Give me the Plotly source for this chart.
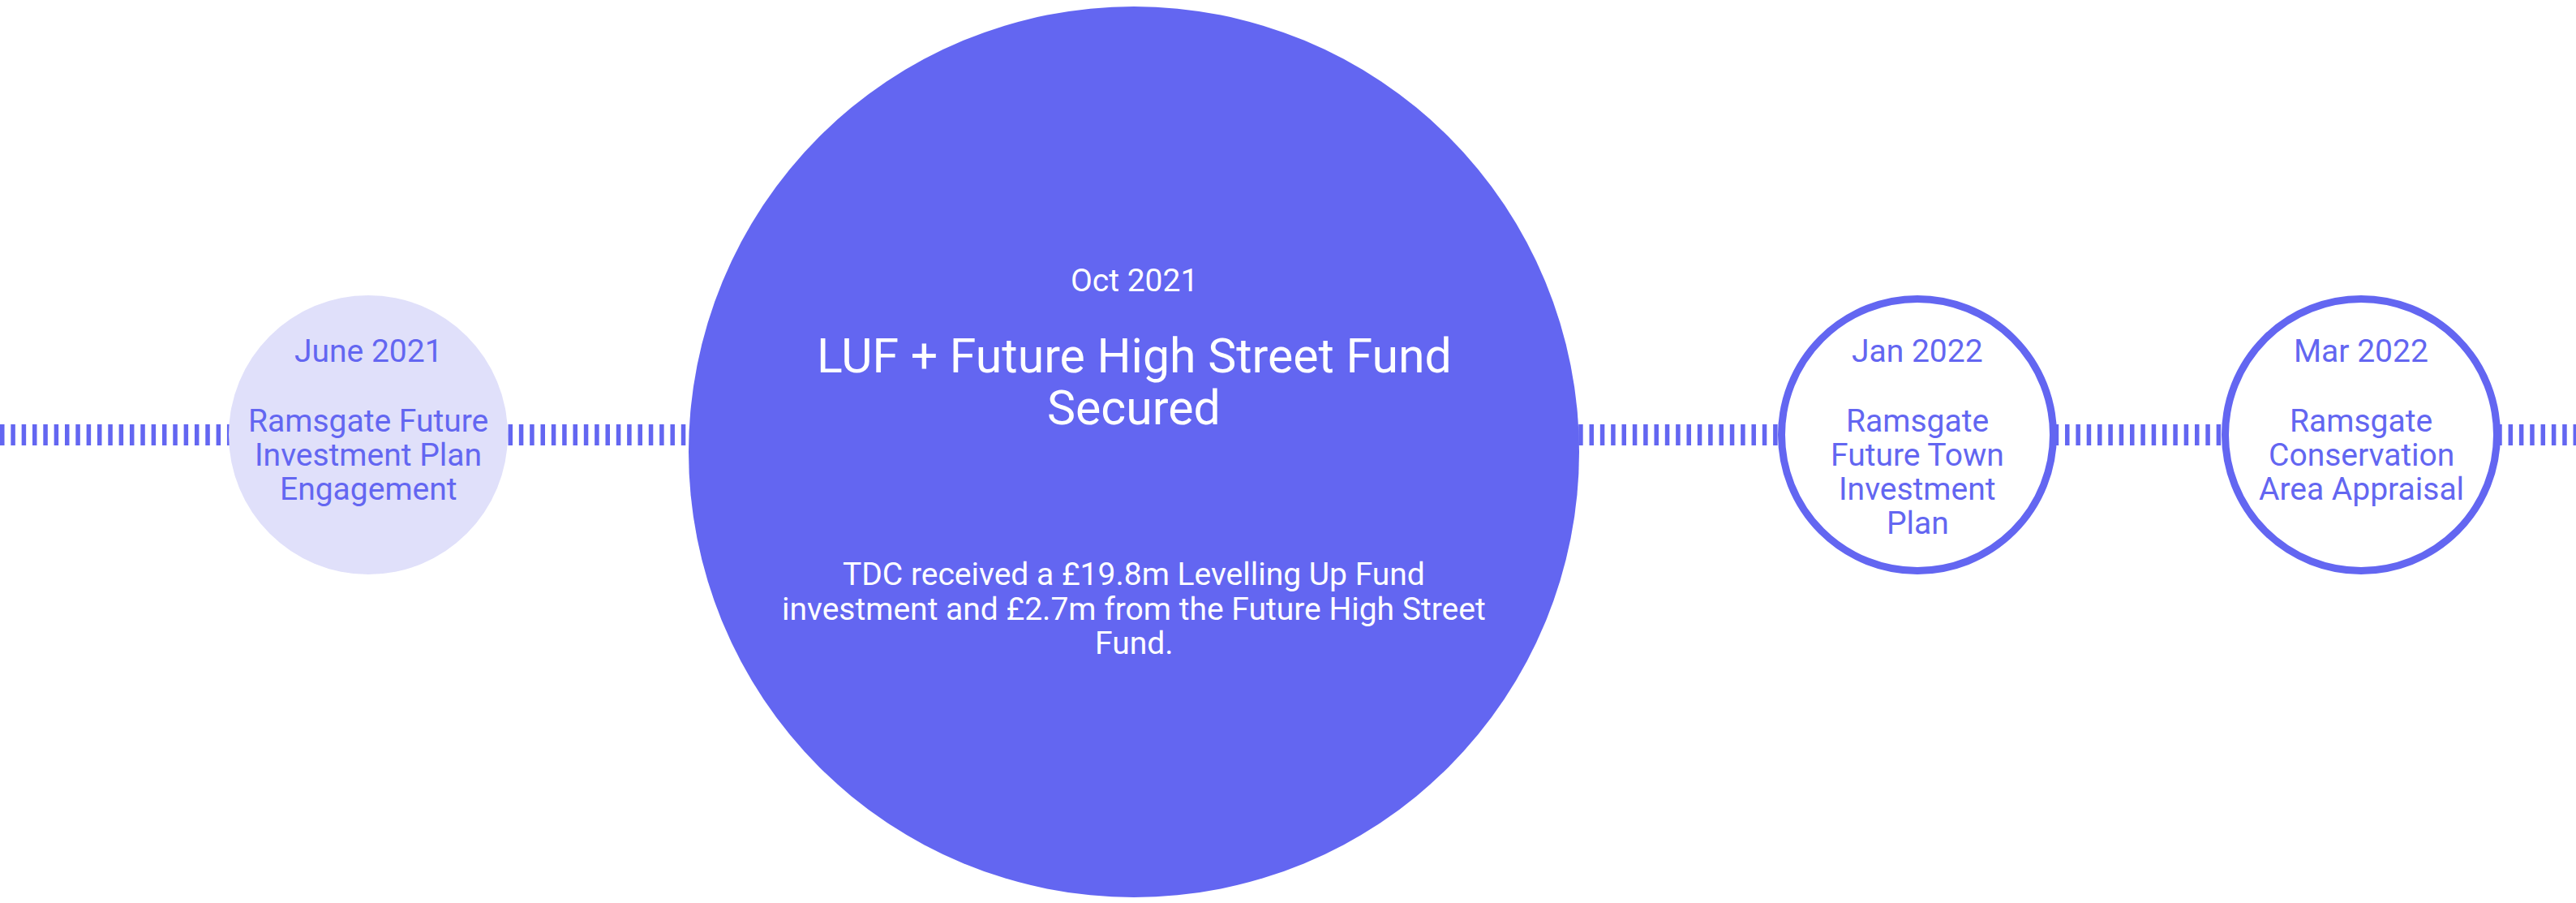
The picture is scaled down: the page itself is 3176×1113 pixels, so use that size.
import plotly.graph_objects as go

# timeline milestones
dates = ["June 2021", "Oct 2021", "Jan 2022", "Mar 2022"]
titles = [
    "Ramsgate Future<br>Investment Plan<br>Engagement",
    "LUF + Future High Street Fund<br>Secured",
    "Ramsgate<br>Future Town<br>Investment<br>Plan",
    "Ramsgate<br>Conservation<br>Area Appraisal",
]
details = [
    "",
    "TDC received a £19.8m Levelling Up Fund<br>investment and £2.7m from the Future High Street<br>Fund.",
    "",
    "",
]
stages = ["past", "current", "upcoming", "upcoming"]

# page / layout settings
W, H = 3176, 1113
INDIGO = "#6366f1"
LAVENDER = "#e0e0fa"
FONT = "Roboto"
line_y = 536
left_edge = 282
gaps = [223, 245, 203]
radius = {"past": 172, "current": 549, "upcoming": 172}
ring = 9

# circle centres from left edge + diameters + gaps
cx = []
x = left_edge
for i, st in enumerate(stages):
    r = radius[st]
    cx.append(x + r)
    x += 2 * r
    if i < len(gaps):
        x += gaps[i]

fig = go.Figure()

# the dashed "tick" timeline running behind the circles
fig.add_trace(go.Scatter(
    x=[0, W], y=[line_y, line_y], mode="lines",
    line=dict(color=INDIGO, width=26, dash="5.5px,7.83px"),
    hoverinfo="skip", showlegend=False,
))

shapes = []
annotations = []
for i, st in enumerate(stages):
    r = radius[st]
    cy = line_y + (21 if st == "current" else 0)
    if st == "past":
        shapes.append(dict(type="circle", xref="x", yref="y",
                           x0=cx[i] - r, x1=cx[i] + r, y0=cy - r, y1=cy + r,
                           fillcolor=LAVENDER, line=dict(width=0)))
    elif st == "current":
        shapes.append(dict(type="circle", xref="x", yref="y",
                           x0=cx[i] - r, x1=cx[i] + r, y0=cy - r, y1=cy + r,
                           fillcolor=INDIGO, line=dict(width=0)))
    else:
        rr = r - ring / 2
        shapes.append(dict(type="circle", xref="x", yref="y",
                           x0=cx[i] - rr, x1=cx[i] + rr, y0=cy - rr, y1=cy + rr,
                           fillcolor="white", line=dict(color=INDIGO, width=ring)))

    col = "white" if st == "current" else INDIGO
    lines = []  # (text, y, size)
    if st == "current":
        lines.append((dates[i], 346, 39))
        for j, t in enumerate(titles[i].split("<br>")):
            lines.append((t, 438 + 64 * j, 59))
        for j, t in enumerate(details[i].split("<br>")):
            lines.append((t, 708 + 42.5 * j, 39))
    else:
        lines.append((dates[i], 433, 39))
        for j, t in enumerate(titles[i].split("<br>")):
            lines.append((t, 519 + 42 * j, 39))

    for t, y, sz in lines:
        annotations.append(dict(
            x=cx[i], y=y, xref="x", yref="y", text=t, showarrow=False,
            xanchor="center", yanchor="middle",
            font=dict(family=FONT, size=sz, color=col),
        ))

fig.update_layout(
    width=W, height=H,
    margin=dict(l=0, r=0, t=0, b=0),
    paper_bgcolor="white", plot_bgcolor="white",
    xaxis=dict(range=[0, W], visible=False, fixedrange=True),
    yaxis=dict(range=[H, 0], visible=False, fixedrange=True),
    shapes=shapes, annotations=annotations,
    showlegend=False,
)

fig.write_html("out.html", config={"displayModeBar": False},
               post_script="document.body.style.margin='0';")
